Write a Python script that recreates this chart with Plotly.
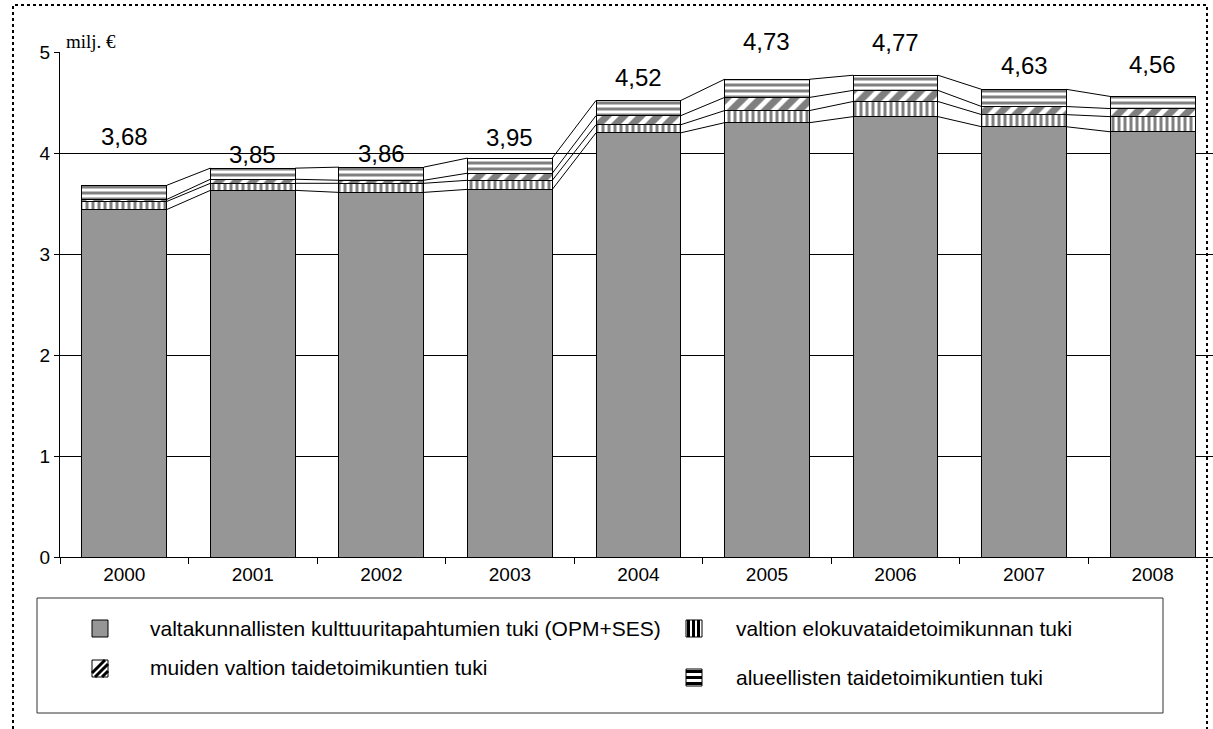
import plotly.graph_objects as go

years = ["2000", "2001", "2002", "2003", "2004", "2005", "2006", "2007", "2008"]
valtakunnalliset = [3.44, 3.63, 3.61, 3.64, 4.20, 4.30, 4.36, 4.26, 4.21]
elokuva = [0.08, 0.07, 0.09, 0.09, 0.08, 0.12, 0.15, 0.12, 0.15]
muiden = [0.02, 0.04, 0.03, 0.07, 0.09, 0.13, 0.11, 0.08, 0.08]
alueelliset = [0.14, 0.11, 0.13, 0.15, 0.15, 0.18, 0.15, 0.17, 0.12]
series_names = [
    "valtakunnallisten kulttuuritapahtumien tuki (OPM+SES)",
    "valtion elokuvataidetoimikunnan tuki",
    "muiden valtion taidetoimikuntien tuki",
    "alueellisten taidetoimikuntien tuki",
]
label_shift = [49, 14, 14, 21, 23, 38, 33, 24, 32]

FONT = "Liberation Sans, Arial, sans-serif"
W, H = 1213, 729
L, T, PW, PH = 60, 52, 1153, 505
BW = 0.66

def px2x(px):
    return (px - L) / PW

def px2y(py):
    return (T + PH - py) / PH

xs = list(range(len(years)))
series = [valtakunnalliset, elokuva, muiden, alueelliset]
patterns = [
    None,
    dict(shape="|", fgcolor="black", bgcolor="white", size=6, solidity=0.5),
    dict(shape="/", fgcolor="black", bgcolor="white", size=12, solidity=0.6),
    dict(shape="-", fgcolor="black", bgcolor="white", size=6, solidity=0.5),
]

fig = go.Figure()
for name, vals, pat in zip(series_names, series, patterns):
    marker = dict(color="#969696" if pat is None else "white",
                  line=dict(color="black", width=1))
    if pat is not None:
        marker["pattern"] = pat
    fig.add_trace(go.Bar(x=xs, y=vals, name=name, width=BW, marker=marker,
                         showlegend=False))

# cumulative levels for connector lines
cum = []
running = [0.0] * len(years)
for vals in series:
    running = [r + v for r, v in zip(running, vals)]
    cum.append(list(running))

for level in cum:
    lx, ly = [], []
    for i in range(len(years) - 1):
        lx += [xs[i] + BW / 2, xs[i + 1] - BW / 2, None]
        ly += [level[i], level[i + 1], None]
    fig.add_trace(go.Scatter(x=lx, y=ly, mode="lines",
                             line=dict(color="black", width=1),
                             showlegend=False, hoverinfo="skip"))

totals = cum[-1]
annotations = []
for i, (t, s) in enumerate(zip(totals, label_shift)):
    annotations.append(dict(x=xs[i], y=t, text=f"{t:.2f}".replace(".", ","),
                            showarrow=False, yshift=s, yanchor="middle",
                            font=dict(family=FONT, size=24, color="black")))

annotations.append(dict(x=px2x(64), y=px2y(42), xref="paper", yref="paper",
                        text="milj. €", showarrow=False, xanchor="left",
                        yanchor="middle",
                        font=dict(family="Liberation Serif, Times New Roman, serif",
                                  size=19, color="black")))

shapes = []
# outer dotted border
shapes.append(dict(type="path", xref="paper", yref="paper",
                   path=f"M {px2x(13)} {px2y(735)} L {px2x(13)} {px2y(5)} "
                        f"L {px2x(1207)} {px2y(5)} L {px2x(1207)} {px2y(735)}",
                   line=dict(color="black", width=2, dash="dot")))
# legend box
shapes.append(dict(type="rect", xref="paper", yref="paper",
                   x0=px2x(37), x1=px2x(1163), y0=px2y(598), y1=px2y(713),
                   line=dict(color="#333333", width=1)))

def icon_box(x0, y0, fill):
    shapes.append(dict(type="rect", xref="paper", yref="paper",
                       x0=px2x(x0), x1=px2x(x0 + 16), y0=px2y(y0), y1=px2y(y0 + 17),
                       fillcolor=fill, line=dict(color="black", width=1)))

# legend icons
legend_items = [
    (92, 620, 148, 628, "gray"),
    (686, 620, 734, 628, "vert"),
    (92, 660, 148, 667, "diag"),
    (686, 669, 734, 677, "horiz"),
]
for (ix, iy, tx, ty, kind), name in zip(legend_items, series_names):
    if kind == "gray":
        icon_box(ix, iy, "#969696")
    else:
        icon_box(ix, iy, "white")
        if kind == "vert":
            for k in range(3):
                bx = ix + 1 + k * 5
                shapes.append(dict(type="rect", xref="paper", yref="paper",
                                   x0=px2x(bx), x1=px2x(bx + 3), y0=px2y(iy), y1=px2y(iy + 17),
                                   fillcolor="black", line=dict(width=0)))
        elif kind == "horiz":
            for k in range(3):
                by = iy + 1 + k * 6
                shapes.append(dict(type="rect", xref="paper", yref="paper",
                                   x0=px2x(ix), x1=px2x(ix + 16), y0=px2y(by), y1=px2y(by + 3),
                                   fillcolor="black", line=dict(width=0)))
        elif kind == "diag":
            for k in range(3):
                ox = ix - 4 + k * 7
                path = (f"M {px2x(max(ox, ix))} {px2y(iy + 17 - max(0, ix - ox))} "
                        f"L {px2x(min(ox + 17, ix + 16))} {px2y(iy + max(0, ox + 17 - ix - 16))}")
                shapes.append(dict(type="path", xref="paper", yref="paper", path=path,
                                   line=dict(color="black", width=3)))
    annotations.append(dict(x=px2x(tx), y=px2y(ty), xref="paper", yref="paper",
                            text=name, showarrow=False, xanchor="left", yanchor="middle",
                            font=dict(family=FONT, size=21, color="black")))

fig.update_layout(
    width=W, height=H,
    margin=dict(l=L, r=W - L - PW, t=T, b=H - T - PH, pad=0),
    barmode="stack",
    plot_bgcolor="white", paper_bgcolor="white",
    annotations=annotations, shapes=shapes,
    xaxis=dict(range=[-0.5, 8.47], tickmode="array", tickvals=xs, ticktext=years,
               ticks="", showline=True, linecolor="black", linewidth=1,
               showgrid=False, zeroline=False,
               tickfont=dict(family=FONT, size=19, color="black"),
               minor=dict(tickmode="array", tickvals=[i - 0.5 for i in range(10)],
                          ticks="outside", ticklen=6, tickcolor="black", showgrid=False)),
    yaxis=dict(range=[0, 5], tickvals=[0, 1, 2, 3, 4, 5], ticks="outside", ticklen=5,
               tickcolor="black", showline=True, linecolor="black", linewidth=1,
               showgrid=True, gridcolor="black", gridwidth=1, zeroline=False,
               tickfont=dict(family=FONT, size=19, color="black")),
    font=dict(family=FONT, color="black"),
)

fig.write_html("out.html", config={"displayModeBar": False},
               post_script="document.body.style.margin='0px';document.body.style.overflow='hidden';")
